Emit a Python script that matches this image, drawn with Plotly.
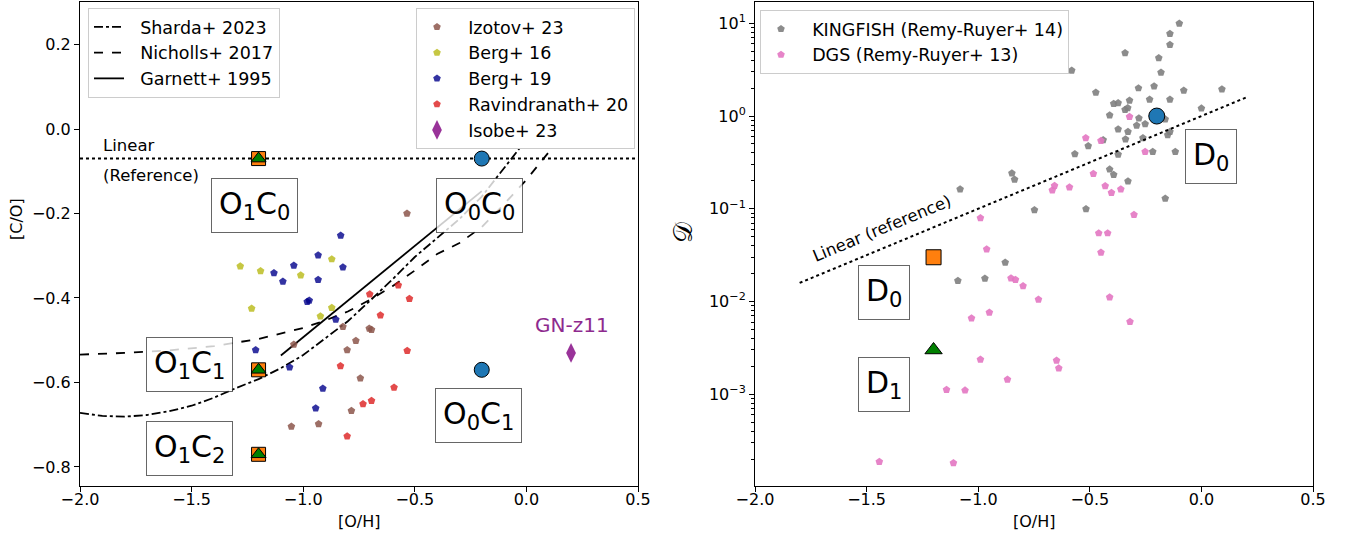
import plotly.graph_objects as go

FONT = "DejaVu Sans"

# ---------------- Left panel data: [C/O] vs [O/H] ----------------
izotov_x = [-0.535, -0.822, -0.704, -0.694, -1.042, -0.764, -0.803, -0.744, -0.784, -1.053, -0.931]
izotov_y = [-0.200, -0.468, -0.472, -0.475, -0.510, -0.501, -0.523, -0.590, -0.667, -0.704, -0.698]

berg16_x = [-1.282, -1.191, -1.011, -0.872, -1.231, -0.872, -0.923]
berg16_y = [-0.325, -0.336, -0.346, -0.308, -0.425, -0.423, -0.443]

berg19_x = [-0.832, -0.933, -1.042, -1.131, -1.091, -0.933, -0.822, -0.982, -0.973,
            -0.854, -1.213, -1.061, -0.912, -0.944]
berg19_y = [-0.252, -0.299, -0.323, -0.341, -0.361, -0.357, -0.327, -0.409, -0.406,
            -0.451, -0.523, -0.564, -0.614, -0.661]

ravi_x = [-0.574, -0.702, -0.524, -0.654, -0.534, -0.833, -0.593, -0.694, -0.732, -0.803]
ravi_y = [-0.370, -0.391, -0.402, -0.441, -0.525, -0.561, -0.612, -0.643, -0.651, -0.727]

isobe_x = [0.2]
isobe_y = [-0.53]

# model curves
sharda_x = [-2.0, -1.9, -1.8, -1.7, -1.6, -1.5, -1.4, -1.3, -1.2, -1.1, -1.0, -0.9,
            -0.8, -0.7, -0.6, -0.5, -0.4, -0.3, -0.2, -0.1, 0.0]
sharda_y = [-0.672, -0.679, -0.681, -0.677, -0.668, -0.655, -0.636, -0.613, -0.592,
            -0.566, -0.535, -0.496, -0.455, -0.406, -0.356, -0.303, -0.258, -0.213,
            -0.160, -0.092, -0.025]

nicholls_x = [-2.0, -1.8, -1.6, -1.4, -1.2, -1.0, -0.9, -0.8, -0.7, -0.6, -0.5, -0.4,
              -0.3, -0.2, -0.1, 0.0, 0.1, 0.15]
nicholls_y = [-0.534, -0.530, -0.524, -0.514, -0.497, -0.471, -0.453, -0.432, -0.404,
              -0.372, -0.335, -0.296, -0.270, -0.232, -0.178, -0.120, -0.055, -0.022]

garnett_x = [-1.1, -0.2]
garnett_y = [-0.536, -0.147]

linear_ref_co = -0.07

# model points (left)
o1_x = [-1.2, -1.2, -1.2]
o1_y = [-0.07, -0.57, -0.77]
o0_x = [-0.2, -0.2]
o0_y = [-0.07, -0.57]

# ---------------- Right panel data: D vs [O/H] ----------------
kf_x = [-0.099, -0.141, -0.141, -0.342, -0.191, -0.181, -0.581, -0.473, -0.282, -0.212,
        -0.079, 0.092, -0.393, -0.373, -0.322, -0.232, -0.141, 0.000, -0.342, -0.330,
        -0.411, -0.280, -0.162, -0.290, -0.252, -0.373, -0.329, -0.141, -0.151, -0.440,
        -0.340, -0.262, -0.507, -0.373, -0.567, -0.218, -0.117, -0.411, -0.393, -0.329,
        -0.849, -0.837, -1.081, -0.748, -0.517, -0.162, -0.879, -1.091, -0.970]
kf_y = [9.93, 7.74, 5.89, 4.78, 4.22, 2.95, 3.10, 1.79, 2.00, 2.10,
        1.89, 1.95, 1.36, 1.38, 1.47, 1.51, 1.51, 1.21, 1.17, 1.22,
        1.02, 0.946, 0.925, 0.789, 0.822, 0.721, 0.679, 0.679, 0.625, 0.552,
        0.562, 0.581, 0.475, 0.384, 0.389, 0.413, 0.413, 0.266, 0.233, 0.198,
        0.241, 0.207, 0.162, 0.0968, 0.0993, 0.129, 0.0263, 0.0167, 0.0177]

dgs_x = [-0.322, -0.518, -0.450, -0.252, -0.484, -0.658, -0.668, -0.591, -0.431, -0.403,
         -0.361, -0.302, -0.990, -0.460, -0.420, -0.962, -0.450, -0.853, -0.833, -0.799,
         -0.730, -0.411, -1.030, -0.950, -0.320, -0.990, -0.649, -0.639, -0.869, -1.142,
         -1.059, -1.443, -1.111]
dgs_y = [0.98, 0.581, 0.543, 0.413, 0.239, 0.177, 0.158, 0.171, 0.176, 0.149,
         0.162, 0.0861, 0.0793, 0.0546, 0.0546, 0.0366, 0.0337, 0.0178, 0.0172, 0.0147,
         0.0105, 0.0111, 0.00661, 0.00759, 0.00605, 0.00237, 0.00231, 0.00190, 0.00144, 0.00112,
         0.00110, 0.000187, 0.000181]

lin_ref_x = [-1.8, 0.2]
lin_ref_y = [0.01585, 1.585]

d_circle_x = [-0.2]
d_circle_y = [1.0]
d_square_x = [-1.2]
d_square_y = [0.03]
d_tri_x = [-1.2]
d_tri_y = [0.003]

# ---------------- Figure ----------------
NB = "\u00a0\u00a0"
fig = go.Figure()

# curves (legend 1)
fig.add_trace(go.Scatter(x=sharda_x, y=sharda_y, mode="lines", name=NB + "Sharda+ 2023",
                         line=dict(color="black", width=1.8, dash="dashdot"),
                         xaxis="x", yaxis="y", legend="legend"))
fig.add_trace(go.Scatter(x=nicholls_x, y=nicholls_y, mode="lines", name=NB + "Nicholls+ 2017",
                         line=dict(color="black", width=1.8, dash="dash"),
                         xaxis="x", yaxis="y", legend="legend"))
fig.add_trace(go.Scatter(x=garnett_x, y=garnett_y, mode="lines", name=NB + "Garnett+ 1995",
                         line=dict(color="black", width=1.8),
                         xaxis="x", yaxis="y", legend="legend"))

# horizontal linear reference
fig.add_trace(go.Scatter(x=[-2.0, 0.5], y=[linear_ref_co, linear_ref_co], mode="lines",
                         line=dict(color="black", width=2, dash="dot"), showlegend=False,
                         xaxis="x", yaxis="y", hoverinfo="skip"))

# observations (legend 2)
obs = [
    ("Izotov+ 23", izotov_x, izotov_y, "rgba(140,86,75,0.85)", "pentagon", 8),
    ("Berg+ 16", berg16_x, berg16_y, "rgba(188,189,34,0.85)", "pentagon", 8),
    ("Berg+ 19", berg19_x, berg19_y, "rgba(0,0,139,0.8)", "pentagon", 8),
    ("Ravindranath+ 20", ravi_x, ravi_y, "rgba(220,30,30,0.8)", "pentagon", 8),
    ("Isobe+ 23", isobe_x, isobe_y, "rgba(128,0,128,0.8)", "diamond-tall", 14),
]
for name, xs, ys, col, sym, sz in obs:
    fig.add_trace(go.Scatter(x=xs, y=ys, mode="markers", name=NB + name,
                             marker=dict(color=col, symbol=sym, size=sz, line=dict(width=0)),
                             xaxis="x", yaxis="y", legend="legend2"))

# model markers left
fig.add_trace(go.Scatter(x=o1_x, y=o1_y, mode="markers", showlegend=False,
                         marker=dict(color="#ff7f0e", symbol="square", size=14,
                                     line=dict(color="black", width=1)),
                         xaxis="x", yaxis="y"))
fig.add_trace(go.Scatter(x=o1_x, y=o1_y, mode="markers", showlegend=False,
                         marker=dict(color="green", symbol="triangle-up", size=13,
                                     line=dict(color="black", width=1)),
                         xaxis="x", yaxis="y"))
fig.add_trace(go.Scatter(x=o0_x, y=o0_y, mode="markers", showlegend=False,
                         marker=dict(color="#1f77b4", symbol="circle", size=15,
                                     line=dict(color="black", width=1)),
                         xaxis="x", yaxis="y"))

# right panel
fig.add_trace(go.Scatter(x=kf_x, y=kf_y, mode="markers", name=NB + "KINGFISH (Remy-Ruyer+ 14)",
                         marker=dict(color="rgba(127,127,127,0.9)", symbol="pentagon", size=8),
                         xaxis="x2", yaxis="y2", legend="legend3"))
fig.add_trace(go.Scatter(x=dgs_x, y=dgs_y, mode="markers", name=NB + "DGS (Remy-Ruyer+ 13)",
                         marker=dict(color="rgba(227,119,194,0.9)", symbol="pentagon", size=8),
                         xaxis="x2", yaxis="y2", legend="legend3"))
fig.add_trace(go.Scatter(x=lin_ref_x, y=lin_ref_y, mode="lines", showlegend=False,
                         line=dict(color="black", width=2, dash="dot"),
                         xaxis="x2", yaxis="y2", hoverinfo="skip"))
fig.add_trace(go.Scatter(x=d_circle_x, y=d_circle_y, mode="markers", showlegend=False,
                         marker=dict(color="#1f77b4", symbol="circle", size=16,
                                     line=dict(color="black", width=1)),
                         xaxis="x2", yaxis="y2"))
fig.add_trace(go.Scatter(x=d_square_x, y=d_square_y, mode="markers", showlegend=False,
                         marker=dict(color="#ff7f0e", symbol="square", size=15,
                                     line=dict(color="black", width=1)),
                         xaxis="x2", yaxis="y2"))
fig.add_trace(go.Scatter(x=d_tri_x, y=d_tri_y, mode="markers", showlegend=False,
                         marker=dict(color="green", symbol="triangle-up", size=15,
                                     line=dict(color="black", width=1)),
                         xaxis="x2", yaxis="y2"))

W, H = 1349, 537
axis_common = dict(showline=True, linecolor="black", linewidth=1, mirror=True,
                   ticks="outside", ticklen=5, tickwidth=1, tickcolor="black",
                   showgrid=False, zeroline=False, automargin=False,
                   tickfont=dict(family=FONT, size=16, color="black"))

xt = [-2.0, -1.5, -1.0, -0.5, 0.0, 0.5]
yt_left = [-0.8, -0.6, -0.4, -0.2, 0.0, 0.2]
yt_right = [1e-3, 1e-2, 1e-1, 1, 10]
yt_right_text = ["10<sup>\u22123</sup>", "10<sup>\u22122</sup>", "10<sup>\u22121</sup>",
                 "10<sup>0</sup>", "10<sup>1</sup>"]
minor_vals = [m * 10.0 ** k for k in range(-4, 2) for m in range(2, 10)]

LEG_FONT = dict(family=FONT, size=17.5, color="black")
ydom = [51 / H, 535 / H]
fig.update_layout(
    width=W, height=H, margin=dict(l=0, r=0, t=0, b=0, autoexpand=False),
    paper_bgcolor="white", plot_bgcolor="white",
    font=dict(family=FONT, size=16, color="black"),
    xaxis=dict(domain=[80 / W, 638 / W], range=[-2.0, 0.5], tickvals=xt,
               tickformat=".1f", anchor="y", ticklabelstandoff=-6, **axis_common),
    yaxis=dict(domain=ydom, range=[-0.845, 0.3006], tickvals=yt_left,
               tickformat=".1f", anchor="x", **axis_common),
    xaxis2=dict(domain=[755 / W, 1313 / W], range=[-2.0, 0.5], tickvals=xt,
                tickformat=".1f", anchor="y2", ticklabelstandoff=-6, **axis_common),
    yaxis2=dict(domain=ydom, type="log", range=[-3.99, 1.23], tickvals=yt_right,
                ticktext=yt_right_text, anchor="x2",
                minor=dict(tickmode="array", tickvals=minor_vals, ticks="outside",
                           ticklen=3, tickcolor="black", showgrid=False),
                **axis_common),
    legend=dict(x=88 / W, y=1 - 8 / H, xanchor="left", yanchor="top",
                bgcolor="white", bordercolor="#cccccc", borderwidth=1, font=LEG_FONT),
    legend2=dict(x=416 / W, y=1 - 8 / H, xanchor="left", yanchor="top",
                 bgcolor="white", bordercolor="#cccccc", borderwidth=1, font=LEG_FONT),
    legend3=dict(x=760 / W, y=1 - 10 / H, xanchor="left", yanchor="top",
                 bgcolor="white", bordercolor="#cccccc", borderwidth=1, font=LEG_FONT),
    showlegend=True,
)

box = dict(bgcolor="rgba(255,255,255,0.8)", bordercolor="rgba(0,0,0,0.6)",
           borderwidth=1, borderpad=7, showarrow=False,
           font=dict(family=FONT, size=30, color="black"))
ann = [
    dict(x=-1.217, y=-0.180, xref="x", yref="y", text="O<sub>1</sub>C<sub>0</sub>", **box),
    dict(x=-0.212, y=-0.180, xref="x", yref="y", text="O<sub>0</sub>C<sub>0</sub>", **box),
    dict(x=-1.510, y=-0.558, xref="x", yref="y", text="O<sub>1</sub>C<sub>1</sub>", **box),
    dict(x=-0.214, y=-0.678, xref="x", yref="y", text="O<sub>0</sub>C<sub>1</sub>", **box),
    dict(x=-1.510, y=-0.757, xref="x", yref="y", text="O<sub>1</sub>C<sub>2</sub>", **box),
    dict(x=0.045, y=-0.432, xref="x2", yref="y2", text="D<sub>0</sub>", **box),
    dict(x=-1.422, y=-1.905, xref="x2", yref="y2", text="D<sub>0</sub>", **box),
    dict(x=-1.422, y=-2.895, xref="x2", yref="y2", text="D<sub>1</sub>", **box),
    dict(x=-1.905, y=-0.039, xref="x", yref="y", text="Linear", showarrow=False,
         xanchor="left", font=dict(family=FONT, size=16.5, color="black")),
    dict(x=-1.905, y=-0.109, xref="x", yref="y", text="(Reference)", showarrow=False,
         xanchor="left", font=dict(family=FONT, size=16.5, color="black")),
    dict(x=0.206, y=-0.465, xref="x", yref="y", text="GN-z11", showarrow=False,
         font=dict(family=FONT, size=20, color="#8e2a8e")),
    dict(x=-1.431, y=-1.216, xref="x2", yref="y2", text="Linear (reference)", showarrow=False,
         textangle=-22.5, font=dict(family=FONT, size=16.5, color="black")),
    dict(x=359 / W, y=1 - 521.5 / H, xref="paper", yref="paper", text="[O/H]",
         xanchor="center", yanchor="middle",
         showarrow=False, font=dict(family=FONT, size=16, color="black")),
    dict(x=1034 / W, y=1 - 521.5 / H, xref="paper", yref="paper", text="[O/H]",
         xanchor="center", yanchor="middle",
         showarrow=False, font=dict(family=FONT, size=16, color="black")),
    dict(x=16 / W, y=1 - 219 / H, xref="paper", yref="paper", text="[C/O]",
         xanchor="center", yanchor="middle",
         showarrow=False, textangle=-90, font=dict(family=FONT, size=16, color="black")),
    dict(x=683 / W, y=1 - 233 / H, xref="paper", yref="paper", text="\U0001D49F",
         xanchor="center", yanchor="middle",
         showarrow=False, textangle=-90, font=dict(family=FONT, size=26, color="black")),
]
fig.update_layout(annotations=ann)

fig.write_html("out.html")
